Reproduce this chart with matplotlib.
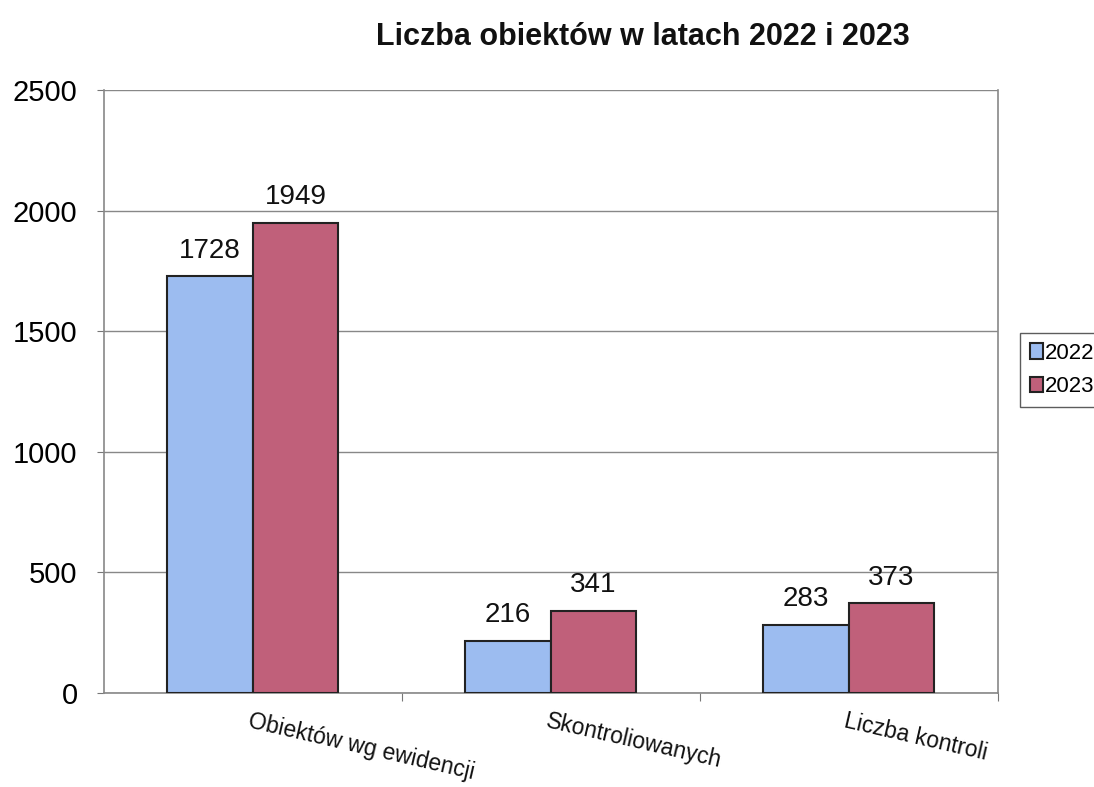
import matplotlib.pyplot as plt
import numpy as np

plt.rcParams['font.family'] = ['Liberation Sans', 'DejaVu Sans']

categories = ['Obiektów wg ewidencji', 'Skontroliowanych', 'Liczba kontroli']
years = ['2022', '2023']
values_2022 = [1728, 216, 283]
values_2023 = [1949, 341, 373]

blue = '#9cbcf0'
red = '#c0607a'

fig = plt.figure(figsize=(10.94, 7.87), dpi=100)
ax = fig.add_axes([0.095, 0.1194, 0.817, 0.7662])

x = np.arange(len(categories))
w = 0.287
b1 = ax.bar(x - w/2, values_2022, w, color=blue, edgecolor='#222222', linewidth=1.5, label=years[0], zorder=3)
b2 = ax.bar(x + w/2, values_2023, w, color=red, edgecolor='#222222', linewidth=1.5, label=years[1], zorder=3)

for bars in (b1, b2):
    for r in bars:
        ax.annotate('%d' % r.get_height(), (r.get_x() + r.get_width()/2, r.get_height()),
                    xytext=(0, 9), textcoords='offset points', ha='center', va='bottom',
                    fontsize=20, color='#111111')

ax.set_xlim(-0.5, 2.5)
ax.set_ylim(0, 2500)
ax.set_yticks(np.arange(0, 2501, 500))
ax.tick_params(axis='y', labelsize=21, length=5, color='#777777', pad=14)
ax.set_xticks([0.5, 1.5, 2.5])
ax.set_xticklabels([])
ax.tick_params(axis='x', length=6, color='#777777')
ax.yaxis.grid(True, color='#888888', linewidth=1, zorder=0)
for s in ax.spines.values():
    s.set_color('#888888')
    s.set_linewidth(1.2)
ax.spines['top'].set_visible(False)

for i, c in enumerate(categories):
    ax.text(i - 0.005, -70, c, rotation=-13, rotation_mode='anchor', ha='left', va='top',
            fontsize=16.5, color='#111111')

fig.text(0.588, 0.953, 'Liczba obiektów w latach 2022 i 2023', ha='center', va='center',
         fontsize=22, fontweight='bold', color='#111111')

leg = fig.legend(handles=[b1, b2], labels=years, loc='upper left',
                 bbox_to_anchor=(0.932, 0.577), fontsize=16, frameon=True,
                 fancybox=False, edgecolor='#333333', handlelength=0.6, handleheight=0.7,
                 handletextpad=0.1, borderpad=0.45, labelspacing=0.55, borderaxespad=0)

fig.savefig('out.png', dpi=100)
